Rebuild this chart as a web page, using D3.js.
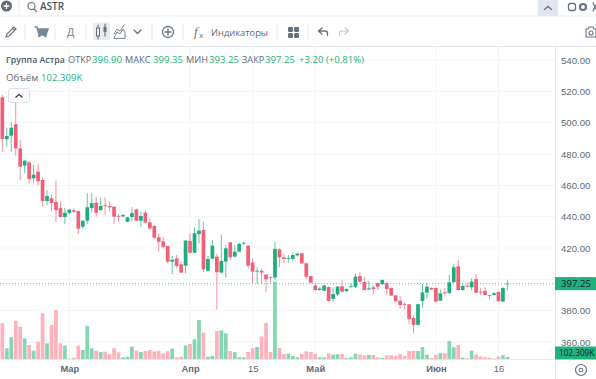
<!DOCTYPE html>
<html>
<head>
<meta charset="utf-8">
<script src="https://cdn.jsdelivr.net/npm/d3@7"></script>
<style>
  html, body { margin: 0; padding: 0; background: #fff; overflow: hidden; }
  svg { display: block; font-family: "Open Sans", "Noto Sans", sans-serif; }
</style>
</head>
<body>
<svg id="chart" width="596" height="379"></svg>
<script>
// candles, one per trading day
const opens = [
  516.2,489.4,491.7,499.0,483.6,472.6,474.7,464.5,468.7,463.4,
  450.0,451.7,449.4,445.5,439.8,442.3,444.2,443.6,433.6,437.4,
  445.5,448.9,444.2,447.4,446.8,446.4,440.4,440.2,436.8,439.8,
  444.7,437.4,442.6,436.4,434.0,426.8,424.2,421.3,411.3,413.4,
  409.6,408.7,424.5,417.0,428.9,431.5,405.5,413.2,414.5,404.3,
  411.3,423.6,414.5,417.7,422.8,421.5,410.8,405.1,405.5,403.0,
  401.3,401.1,419.1,414.0,413.0,413.0,415.3,416.6,410.2,402.1,
  396.0,393.2,392.8,395.1,387.5,390.4,395.5,392.4,395.3,395.3,
  402.1,398.3,393.6,394.9,397.7,397.0,397.5,394.5,389.8,386.4,
  384.3,384.1,375.3,370.9,386.2,391.5,394.5,394.5,386.4,391.7,
  391.3,398.1,408.3,393.2,396.0,394.9,400.2,392.1,392.6,390.0,
  390.0,391.9,385.8,396.9
];
const closes = [
  489.6,491.5,496.8,483.6,471.9,475.7,464.0,466.8,462.6,450.0,
  453.2,448.7,444.2,439.8,442.5,444.5,443.2,432.3,437.4,446.0,
  448.7,442.5,446.8,447.0,446.0,440.0,440.0,441.1,439.6,442.3,
  437.4,440.4,436.2,432.5,426.6,424.0,420.8,411.3,412.5,408.5,
  404.3,424.7,417.0,429.4,431.1,406.4,413.0,421.5,404.5,411.7,
  419.8,414.0,417.7,422.6,423.4,408.7,404.9,405.5,404.3,400.0,
  400.8,419.4,414.0,413.0,413.6,415.5,416.4,410.2,401.7,397.9,
  393.2,394.1,396.0,386.2,390.6,395.3,392.1,393.8,395.8,401.7,
  398.5,393.2,394.3,393.8,395.3,399.6,393.8,389.6,386.0,383.6,
  383.8,374.7,370.9,384.1,391.7,395.3,393.6,385.8,391.1,391.1,
  398.1,407.7,393.2,395.8,395.3,398.5,391.5,391.5,390.0,389.6,
  391.1,386.0,394.5,397.25
];
const highs = [
  517.7,496.8,500.2,513.4,488.9,476.2,475.5,473.0,473.6,465.1,
  457.0,453.8,463.0,450.0,445.7,444.9,445.3,443.8,437.9,454.9,
  454.9,452.8,452.3,452.3,450.0,446.4,441.7,441.5,440.0,446.0,
  445.1,443.2,444.3,438.5,434.7,429.4,427.2,421.5,414.9,415.5,
  411.3,425.1,429.4,433.2,438.3,436.4,414.9,425.1,416.2,428.7,
  421.9,424.0,421.9,423.4,423.8,421.9,413.4,407.7,407.0,403.4,
  401.7,424.0,419.8,416.2,415.5,417.0,417.0,416.8,410.6,402.4,
  397.5,394.9,396.4,395.3,394.9,395.8,399.6,394.3,397.5,403.4,
  404.9,401.7,399.0,396.4,397.9,400.0,398.5,394.9,390.0,389.4,
  385.1,384.3,377.2,384.3,397.0,397.5,394.9,394.9,393.6,394.3,
  402.8,409.8,412.4,396.8,397.9,400.6,403.4,394.3,394.9,390.4,
  391.9,392.4,394.9,399.35
];
const lows = [
  481.5,484.7,481.5,479.0,463.4,467.7,461.3,461.7,460.2,446.4,
  447.4,443.2,436.8,439.6,435.3,441.7,442.5,428.9,432.5,435.3,
  442.5,440.0,443.8,441.1,443.2,435.1,436.8,439.4,436.4,436.8,
  437.2,433.2,435.7,431.5,425.7,417.7,419.8,410.2,403.2,407.0,
  404.0,403.8,416.2,416.8,423.0,404.9,405.3,413.0,380.8,403.8,
  401.1,412.3,414.0,417.2,421.9,407.0,397.4,397.0,397.4,391.9,
  398.5,399.6,407.7,410.6,410.6,411.9,414.5,409.8,400.2,397.5,
  392.8,392.8,392.6,385.8,385.5,389.4,391.7,392.1,394.3,394.3,
  397.9,392.8,393.2,390.6,393.2,396.4,390.0,389.4,385.8,381.1,
  380.9,371.3,365.5,370.6,382.1,387.9,393.2,385.1,386.2,389.6,
  390.6,397.9,392.8,392.8,394.9,392.8,391.1,390.0,389.8,387.2,
  389.8,385.8,385.5,393.25
];
// volume in thousands
const volumes = [
  1577,482,964,1694,1431,920,628,380,774,2015,
  701,1504,2161,701,599,29,73,599,409,1460,
  482,380,321,336,234,482,307,88,117,555,
  380,321,365,409,350,365,263,350,467,88,
  117,599,672,876,1723,1168,117,146,1241,1270,
  1139,365,321,88,88,321,496,540,993,1591,
  321,3402,496,234,248,146,88,234,350,321,
  234,88,88,263,204,219,234,58,88,248,
  204,175,190,190,88,58,175,175,146,219,
  146,365,365,365,540,204,58,204,263,263,
  803,526,628,73,44,380,204,131,102,73,
  29,117,175,102.309
];

const priceTicks = [540, 520, 500, 480, 460, 440, 420, 400, 380, 360];
const timeTicks = [15, 42, 56, 70, 97, 111];
const timeLabels = ["Мар", "Апр", "15", "Май", "Июн", "16"];
const lastPrice = 397.25;

const legendNames = ["ОТКР", "МАКС", "МИН", "ЗАКР"];
const legendValues = ["396.90", "399.35", "393.25", "397.25"];

const green = "#1eae7b", red = "#ef6079";
const greenVol = "#86d5b3", redVol = "#ffb2bc";
const labelGreen = "#22b37f";
const textGrey = "#5d6b78";
const gridCol = "#f3f5f8", borderCol = "#e3e7ec";

const plotRight = 555, volBase = 359.3;

const svg = d3.select("#chart");

const x = d3.scaleLinear().domain([0, 113]).range([2.33, 507.4]);
const y = d3.scaleLinear().domain([540, 360]).range([60, 342]);
const yVol = d3.scaleLinear().domain([0, 3402]).range([volBase, 281.7]);

const days = d3.range(opens.length);

// grid
svg.append("g").selectAll("line").data(priceTicks).enter().append("line")
  .attr("x1", 0).attr("x2", plotRight)
  .attr("y1", d => y(d)).attr("y2", d => y(d))
  .attr("stroke", gridCol);
svg.append("g").selectAll("line").data(timeTicks).enter().append("line")
  .attr("x1", d => x(d)).attr("x2", d => x(d))
  .attr("y1", 47).attr("y2", volBase)
  .attr("stroke", gridCol);

// volume
svg.append("g").selectAll("rect").data(days).enter().append("rect")
  .attr("x", d => x(d) - 1.85)
  .attr("width", 3.7)
  .attr("y", d => yVol(volumes[d]))
  .attr("height", d => volBase - yVol(volumes[d]))
  .attr("fill", d => closes[d] >= opens[d] ? greenVol : redVol);

// last price line
svg.append("line")
  .attr("x1", 0).attr("x2", plotRight)
  .attr("y1", y(lastPrice)).attr("y2", y(lastPrice))
  .attr("stroke", "#5fcaa2")
  .attr("stroke-dasharray", "1 2");

// candles
const candle = svg.append("g").selectAll("g").data(days).enter().append("g")
  .attr("fill", d => closes[d] >= opens[d] ? green : red)
  .attr("stroke", d => closes[d] >= opens[d] ? green : red);
candle.append("line")
  .attr("x1", d => x(d)).attr("x2", d => x(d))
  .attr("y1", d => y(highs[d])).attr("y2", d => y(lows[d]))
  .attr("stroke-opacity", 0.7);
candle.append("rect")
  .attr("x", d => x(d) - 1.85)
  .attr("width", 3.7)
  .attr("y", d => y(Math.max(opens[d], closes[d])))
  .attr("height", d => Math.max(0.8, Math.abs(y(opens[d]) - y(closes[d]))))
  .attr("stroke", "none");

// axes
const priceAxis = svg.append("g")
  .attr("transform", "translate(" + plotRight + ",0)")
  .call(d3.axisRight(y).tickValues(priceTicks).tickFormat(d3.format(".2f")).tickSize(0).tickPadding(6));
priceAxis.select(".domain").remove();
priceAxis.selectAll("text")
  .attr("fill", textGrey)
  .style("font-size", "9.6px");

const timeAxis = svg.append("g")
  .attr("transform", "translate(0," + volBase + ")")
  .call(d3.axisBottom(x).tickValues(timeTicks).tickFormat((d, i) => timeLabels[i]).tickSize(0).tickPadding(6));
timeAxis.select(".domain").remove();
timeAxis.selectAll("text")
  .attr("fill", textGrey)
  .style("font-size", "9.4px")
  .style("font-weight", (d, i) => /\d/.test(timeLabels[i]) ? 400 : 600);

svg.append("line").attr("x1", 0).attr("x2", plotRight)
  .attr("y1", volBase + 0.2).attr("y2", volBase + 0.2).attr("stroke", borderCol);
svg.append("line").attr("x1", plotRight + 0.5).attr("x2", plotRight + 0.5)
  .attr("y1", 47).attr("y2", 379).attr("stroke", borderCol);

// tags on the axis
function axisTag(cy, label, size, pad) {
  svg.append("rect")
    .attr("x", plotRight).attr("y", cy - 6.5)
    .attr("width", 41).attr("height", 13)
    .attr("fill", "#1fb27d");
  svg.append("text")
    .attr("x", plotRight + pad).attr("y", cy + 3.4)
    .attr("fill", "#123")
    .style("font-size", size)
    .text(label);
}
axisTag(y(lastPrice), "397.25", "9.6px", 6);
axisTag(353, "102.309K", "8.2px", 4);

// legend
function legendText(tx, ty, s, col, weight, size) {
  svg.append("text")
    .attr("x", tx).attr("y", ty)
    .attr("fill", col)
    .style("font-size", size || "9.6px")
    .style("font-weight", weight || 400)
    .text(s);
}
legendText(6, 63, "Группа Астра", "#4d5a66", 600, "8.8px");
const nameX = [68, 125, 186, 242], valueX = [92, 153, 209, 265];
legendNames.forEach((s, i) => {
  legendText(nameX[i], 63, s, textGrey, 400, "9.2px");
  legendText(valueX[i], 63, legendValues[i], labelGreen);
});
legendText(299, 63, "+3.20 (+0.81%)", labelGreen);
legendText(6, 81, "Объём", textGrey);
legendText(41, 81, "102.309K", labelGreen);

// collapse button
svg.append("rect").attr("x", 8.5).attr("y", 88.5).attr("width", 21).attr("height", 14).attr("rx", 2)
  .attr("fill", "#fff").attr("stroke", "#dcdfe3");
svg.append("path").attr("d", "M15.5 97.5l3.5-3 3.5 3").attr("fill", "none").attr("stroke", "#333").attr("stroke-width", 1.2);

// top bars
svg.append("line").attr("x1", 0).attr("x2", 596).attr("y1", 16).attr("y2", 16).attr("stroke", "#eceff2");
svg.append("line").attr("x1", 0).attr("x2", 596).attr("y1", 46.5).attr("y2", 46.5).attr("stroke", borderCol);
svg.append("rect").attr("x", 538).attr("y", 0).attr("width", 20).attr("height", 16).attr("fill", "#dfe6ed");
svg.append("rect").attr("x", 93).attr("y", 23).attr("width", 17).attr("height", 17).attr("rx", 2).attr("fill", "#e9edf1");

const seps = [25, 55, 86, 152, 183, 277, 308];
svg.append("g").selectAll("line").data(seps).enter().append("line")
  .attr("x1", d => d).attr("x2", d => d).attr("y1", 24).attr("y2", 40).attr("stroke", "#e6e9ed");
svg.append("line").attr("x1", 19).attr("x2", 19).attr("y1", 0).attr("y2", 15).attr("stroke", "#e6e9ed");

const iconCol = "#66737f";
function icon(d, opts) {
  opts = opts || {};
  svg.append("path").attr("d", d)
    .attr("fill", opts.fill || "none")
    .attr("stroke", opts.fill ? "none" : (opts.col || iconCol))
    .attr("stroke-width", opts.w || 1.3)
    .attr("stroke-linecap", "round");
}
// top row
icon("M1 6a5.5 5.5 0 1 0 11 0a5.5 5.5 0 1 0-11 0z", { fill: "#5f6b76" });
icon("M6.5 3.5v5M4 6h5", { col: "#fff" });
icon("M28 6a3.5 3.5 0 1 0 7 0a3.5 3.5 0 1 0-7 0zM34 9l2.5 2.5", { w: 1.1 });
svg.append("text").attr("x", 40).attr("y", 10).attr("fill", "#4a5763")
  .style("font-size", "10px").style("font-weight", 600).text("ASTR");
icon("M544.5 9.5l3.5-3 3.5 3", { w: 1.4 });
svg.append("rect").attr("x", 568.5).attr("y", 3.5).attr("width", 7).attr("height", 7).attr("rx", 2)
  .attr("fill", "none").attr("stroke", iconCol).attr("stroke-width", 1.3);
svg.append("circle").attr("cx", 583).attr("cy", 7).attr("r", 3).attr("fill", "none").attr("stroke", iconCol).attr("stroke-width", 2.2);
icon("M593 3l4 8M597 3l-4 8", { w: 1.2 });

// toolbar
icon("M6 37l1-3 7-7 2 2-7 7zM12.5 28.5l2 2", { w: 1.1 });
icon("M35 27h2l2 8h7l2-6H38", { col: "#7a8794", w: 1.5 });
icon("M38 29h10l-2 6h-7z", { fill: "#7a8794" });
icon("M38 36a1.3 1.3 0 1 0 2.6 0a1.3 1.3 0 1 0-2.6 0zM44 36a1.3 1.3 0 1 0 2.6 0a1.3 1.3 0 1 0-2.6 0z", { fill: "#7a8794" });
svg.append("text").attr("x", 67).attr("y", 36).attr("fill", "#8a95a0")
  .style("font-size", "10px").style("font-weight", 600).text("Д");
icon("M98 25v14M98 28v8M105 24v12M105 27v5", { w: 1.2 });
svg.append("rect").attr("x", 96.5).attr("y", 28).attr("width", 3).attr("height", 8).attr("fill", "#e9edf1").attr("stroke", iconCol);
svg.append("rect").attr("x", 103.5).attr("y", 27).attr("width", 3).attr("height", 5).attr("fill", iconCol);
icon("M114 38l3-6 3 2 3-5 2 3v6zM114 34l3-5 3 2 4-6", { w: 0.9 });
icon("M134 30l3.5 3.5 3.5-3.5", { w: 1.3 });
icon("M162.5 32a5.5 5.5 0 1 0 11 0a5.5 5.5 0 1 0-11 0zM168 29v6M165 32h6", { w: 1.3 });
svg.append("text").attr("x", 194).attr("y", 36).attr("fill", iconCol)
  .style("font-size", "13px").style("font-style", "italic").style("font-family", "'Liberation Serif'").text("f");
svg.append("text").attr("x", 199).attr("y", 38).attr("fill", iconCol)
  .style("font-size", "8px").text("x");
svg.append("text").attr("x", 211).attr("y", 35.5).attr("fill", textGrey)
  .style("font-size", "9.3px").text("Индикаторы");
svg.append("g").selectAll("rect").data([[288, 27], [294, 27], [288, 33], [294, 33]]).enter().append("rect")
  .attr("x", d => d[0]).attr("y", d => d[1]).attr("width", 5).attr("height", 5).attr("rx", 1.2).attr("fill", iconCol);
icon("M322 28l-3.5 3 3.5 3M319 31h6a2.5 2.5 0 0 1 2.5 2.5v2", { w: 1.3 });
icon("M345 28l3.5 3-3.5 3M348 31h-6a2.5 2.5 0 0 0-2.5 2.5v2", { w: 1.2, col: "#c4cbd2" });
icon("M586 29h2l1-2h4l1 2h2v8h-10zM589 33a2 2 0 1 0 4 0a2 2 0 1 0-4 0z", { w: 1.1 });
// gear at the corner of the axes
svg.append("circle").attr("cx", 581).attr("cy", 370).attr("r", 5.5).attr("fill", "none").attr("stroke", iconCol).attr("stroke-width", 1.2);
svg.append("circle").attr("cx", 581).attr("cy", 370).attr("r", 1.8).attr("fill", "none").attr("stroke", iconCol).attr("stroke-width", 1.1);
</script>
</body>
</html>
